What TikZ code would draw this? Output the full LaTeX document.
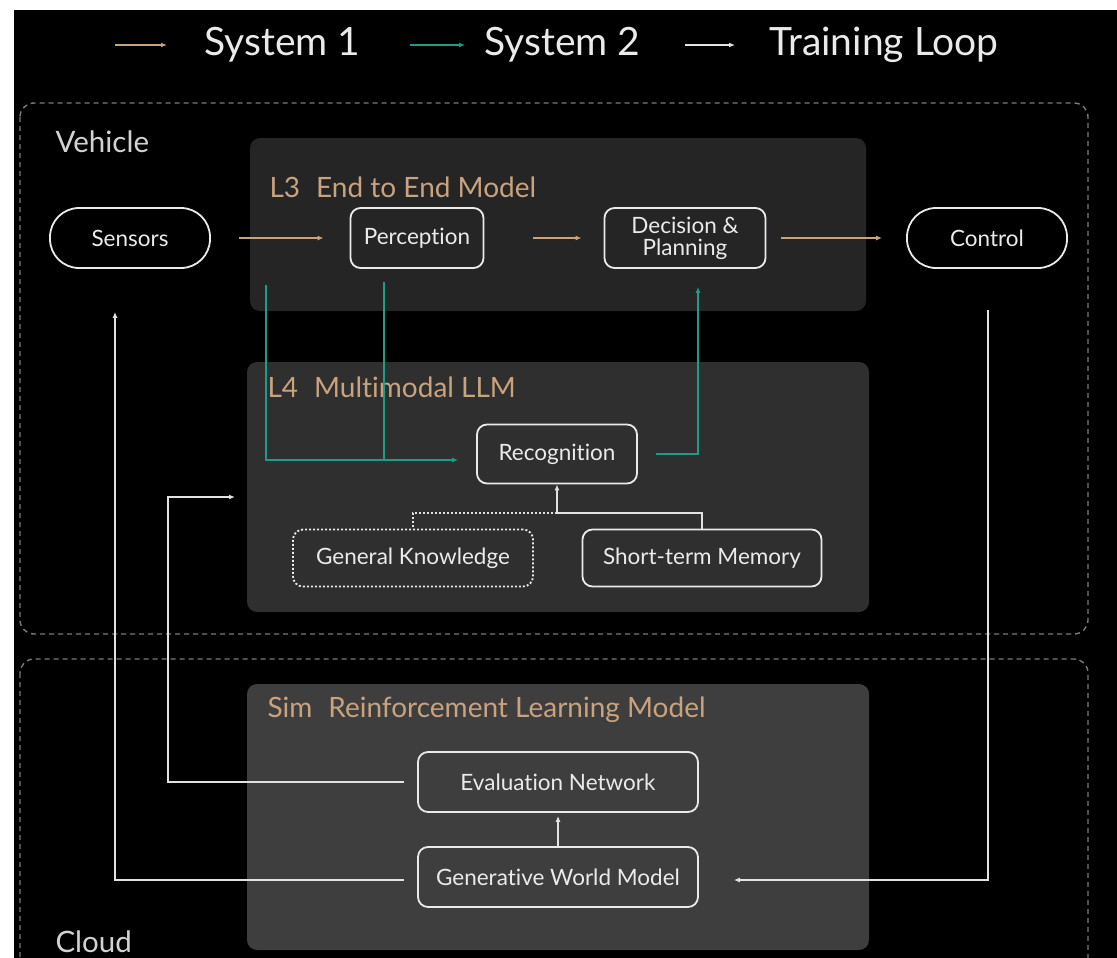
\documentclass[tikz,border=0pt]{standalone}
\usepackage{fontspec}
\setmainfont[Ligatures=NoCommon]{Lato}
\usetikzlibrary{arrows.meta}
\definecolor{sysone}{HTML}{C9A27E}
\definecolor{systwo}{HTML}{1F9C85}
\definecolor{loopc}{HTML}{E2E2E2}
\definecolor{txtc}{HTML}{EAEAEA}
\definecolor{framec}{HTML}{7A7A7A}
\definecolor{panelA}{HTML}{252525}
\definecolor{panelB}{HTML}{2F2F2F}
\definecolor{panelC}{HTML}{3E3E3E}
\begin{document}
\begin{tikzpicture}[x=1pt,y=-1pt,
  tip/.tip={Latex[length=6pt,width=5pt]},
  s1/.style={draw=sysone,line width=1.6pt,-tip},
  s2/.style={draw=systwo,line width=1.6pt,-tip},
  s3/.style={draw=loopc,line width=1.6pt,-tip},
  s3line/.style={draw=loopc,line width=1.6pt},
  box/.style={draw=txtc,line width=1.8pt,rounded corners=10pt,text=txtc,
    font=\fontsize{22.5}{25}\selectfont,align=center,inner sep=0pt},
  pill/.style={box,rounded corners=29pt,minimum width=160pt,minimum height=60pt},
  frame/.style={draw=framec,line width=1.4pt,dash pattern=on 5pt off 4pt,rounded corners=14pt},
  region/.style={text=txtc!90!black,font=\fontsize{29.5}{34}\selectfont,anchor=west},
  ptitle/.style={text=sysone,font=\fontsize{28}{32}\selectfont,anchor=west},
  legend/.style={text=txtc,font=\fontsize{39}{46}\selectfont,anchor=west}]
\useasboundingbox (0,0) rectangle (1117,958);
\fill[white] (0,0) rectangle (1117,958);
\clip (0,0) rectangle (1117,958);
\fill[black] (14,10) rectangle (1117,958);

% legend
\coordinate (la1) at (115,45); \coordinate (la2) at (167,45);
\coordinate (lb1) at (410,45); \coordinate (lb2) at (465,45);
\coordinate (lc1) at (685,45); \coordinate (lc2) at (735,45);
\draw[s1] (la1) -- (la2);
\draw[s2] (lb1) -- (lb2);
\draw[s3] (lc1) -- (lc2);
\node[legend] (lt1) at (201,45) {System 1};
\node[legend] (lt2) at (481,45) {System 2};
\node[legend] (lt3) at (766,45) {Training Loop};

% region frames
\draw[frame] (20,103) rectangle (1088,634);
\draw[frame] (20,659) rectangle (1088,990);
\node[region] (veh) at (52,142) {Vehicle};
\node[region] (cld) at (52,942) {Cloud};

% panels
\fill[panelA,rounded corners=10pt] (250,138) rectangle (866,311);
\fill[panelB,rounded corners=10pt] (247,362) rectangle (869,612);
\fill[panelC,rounded corners=10pt] (247,684) rectangle (869,950);
\node[ptitle] (t3) at (266,187) {L3\hspace{16pt}End to End Model};
\node[ptitle] (t4) at (264,387) {L4\hspace{16pt}Multimodal LLM};
\node[ptitle] (ts) at (264,710) {Sim\hspace{16pt}Reinforcement Learning Model};

% nodes
\node[pill] (sensors) at (130,238) {Sensors};
\node[box,minimum width=133pt,minimum height=60pt] (perc) at (417,238) {Perception};
\node[box,minimum width=161pt,minimum height=60pt] (dec) at (685,238) {Decision \&\\[-3pt]Planning};
\node[pill] (control) at (987,238) {Control};
\node[box,minimum width=160pt,minimum height=59pt] (recog) at (557,454) {Recognition};
\node[box,dash pattern=on 2pt off 2pt,minimum width=240pt,minimum height=57pt] (gk) at (413,558) {General Knowledge};
\node[box,minimum width=239pt,minimum height=57pt] (stm) at (702,558) {Short-term Memory};
\node[box,minimum width=280pt,minimum height=60pt] (eval) at (558,782) {Evaluation Network};
\node[box,minimum width=280pt,minimum height=60pt] (gwm) at (558,877) {Generative World Model};

% system 1
\draw[s1] ([xshift=28pt]sensors.east) -- ([xshift=-26pt]perc.west);
\draw[s1] ([xshift=49pt]perc.east) -- ([xshift=-22pt]dec.west);
\draw[s1] ([xshift=15pt]dec.east) -- ([xshift=-24pt]control.west);

% system 2
\coordinate (ta) at (266,285);
\coordinate (tb) at (384,282);
\coordinate (tj) at (384,460);
\draw[s2] (ta) |- ([xshift=-18pt,yshift=-6pt]recog.west);
\draw[draw=systwo,line width=1.6pt] (tb) -- (tj);
\draw[s2] ([xshift=18pt]recog.east) -| ([xshift=13pt,yshift=-18pt]dec.south);

% recognition inputs
\coordinate (rj) at (557,513);
\draw[s3] (rj) -- (recog.south);
\draw[s3line] (rj) -| (stm.north);
\draw[draw=loopc,line width=1.6pt,dash pattern=on 2pt off 2pt] (rj) -| (gk.north);

% training loop
\coordinate (e1) at (168,782);
\coordinate (e2) at (168,497);
\coordinate (e3) at (235,497);
\draw[s3] ([xshift=-13pt]eval.west) -- (e1) -- (e2) -- (e3);
\coordinate (g1) at (115,880);
\draw[s3] ([xshift=-13pt,yshift=-3pt]gwm.west) -- (g1) -- ([xshift=-15pt,yshift=-43pt]sensors.south);
\coordinate (c1) at (988,310);
\coordinate (c2) at (988,880);
\draw[s3] (c1) -- (c2) -- ([xshift=35pt,yshift=-3pt]gwm.east);
\draw[s3] (gwm.north) -- ([yshift=-3pt]eval.south);
\end{tikzpicture}
\end{document}
